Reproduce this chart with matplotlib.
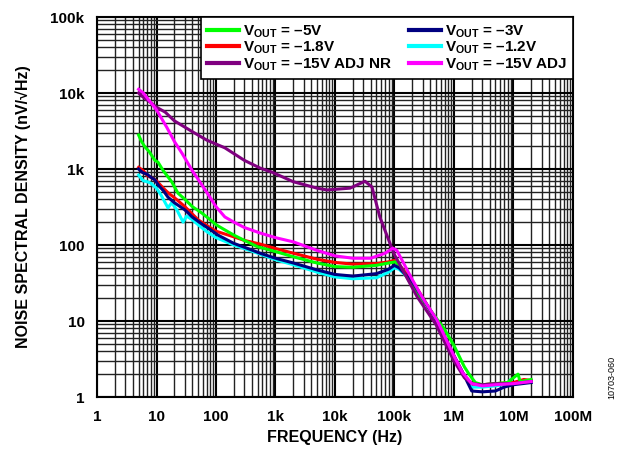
import numpy as np
import matplotlib
matplotlib.use("Agg")
import matplotlib.pyplot as plt
from matplotlib.ticker import LogLocator, NullFormatter

plt.rcParams['font.family'] = ['Liberation Sans', 'DejaVu Sans']
plt.rcParams['font.weight'] = 'bold'
plt.rcParams['mathtext.fontset'] = 'custom'
plt.rcParams['mathtext.rm'] = 'Liberation Sans:bold'
plt.rcParams['mathtext.it'] = 'Liberation Sans:bold'
plt.rcParams['mathtext.bf'] = 'Liberation Sans:bold'

# frequency (Hz) / noise density (nV/rtHz)
f_5v = [5, 5.6, 6.4, 7.5, 9.4, 10.6, 13, 18, 23, 30, 40, 58, 80, 100, 141, 200, 300, 500, 1e3, 2e3,
        5e3, 1e4, 2e4, 5e4, 8e4, 1.05e5, 1.3e5, 2.05e5, 4e5, 6.8e5, 1e6, 1.5e6, 1.8e6, 2.3e6, 3e6,
        5e6, 8e6, 1.2e7, 1.3e7, 2e7]
v_5v = [2800, 2300, 1950, 1700, 1300, 1230, 950, 680, 480, 400, 320, 263, 215, 185, 158, 135, 115,
        95, 82, 70, 58, 52, 51, 54, 58, 60, 50, 28, 14, 8, 4.8, 2.5, 2.0, 1.55, 1.45, 1.5, 1.55,
        2.0, 1.6, 1.7]

f_3v = [5, 5.8, 7, 8, 9.4, 11, 13, 15.6, 20, 25, 30, 40, 60, 80, 108, 200, 400, 550, 1e3, 2e3, 5e3,
        1e4, 2e4, 5e4, 8e4, 1e5, 1.2e5, 2e5, 5e5, 1e6, 1.5e6, 2e6, 3e6, 5e6, 7e6, 1e7, 2e7]
v_3v = [1000, 900, 850, 780, 720, 600, 520, 426, 360, 320, 290, 233, 185, 160, 135, 105, 86, 78, 67,
        58, 47, 41, 39, 42, 48, 54, 50, 33, 10.5, 3.5, 1.9, 1.2, 1.17, 1.2, 1.35, 1.45, 1.55]

f_18 = [5, 6, 7, 8.5, 10, 13, 16, 20, 30, 50, 70, 100, 200, 300, 550, 1e3, 2e3, 5e3, 1e4, 2e4, 5e4,
        8e4, 1e5, 1.2e5, 2e5, 5e5, 1e6, 1.5e6, 2e6, 3e6, 5e6, 1e7, 1.5e7, 2e7]
v_18 = [1050, 950, 820, 760, 700, 560, 480, 420, 320, 215, 180, 152, 128, 115, 103, 90, 78, 65, 59,
        56, 57, 60, 63, 55, 34, 10.5, 3.5, 1.9, 1.5, 1.45, 1.5, 1.55, 1.7, 1.65]

f_12 = [5, 5.5, 6, 7, 8, 10, 12, 15.6, 18, 22, 28, 32, 40, 50, 70, 100, 200, 500, 1e3, 2e3, 5e3, 1e4,
        2e4, 5e4, 8e4, 1e5, 1.2e5, 2e5, 5e5, 1e6, 1.5e6, 2e6, 3e6, 5e6, 8e6, 9e6, 1e7, 2e7]
v_12 = [830, 760, 700, 680, 650, 560, 450, 308, 360, 290, 200, 240, 215, 185, 150, 125, 100, 78, 64,
        55, 44, 38, 36, 37, 44, 50, 48, 33, 10.5, 3.5, 1.9, 1.35, 1.35, 1.4, 1.5, 1.7, 1.5, 1.6]

f_nr = [5, 6, 7.8, 10, 14, 20, 40, 70, 141, 300, 550, 870, 2e3, 5e3, 7.4e3, 1.8e4, 3.2e4, 4.2e4,
        5.7e4, 8.4e4, 1e5, 2.4e5, 5e5, 1e6, 1.5e6, 2e6, 3e6, 5e6, 1e7, 2e7]
v_nr = [10000, 8800, 7600, 6500, 5600, 4300, 3100, 2400, 1900, 1300, 1030, 910, 680, 560, 530, 560,
        690, 580, 233, 106, 75, 21, 9, 3, 1.8, 1.5, 1.45, 1.5, 1.5, 1.6]

f_adj = [5, 6, 8, 10, 15, 20, 27, 40, 58, 80, 100, 141, 200, 300, 550, 1e3, 2e3, 5e3, 1e4, 2e4,
         4e4, 7e4, 9.4e4, 1.1e5, 2e5, 3e5, 5.2e5, 1e6, 1.4e6, 2e6, 3e6, 5e6, 1e7, 2e7]
v_adj = [11200, 10000, 7500, 6000, 3500, 2300, 1600, 950, 617, 420, 320, 234, 200, 170, 144, 125,
         110, 85, 72, 67, 67, 78, 91, 85, 35, 20, 10.3, 3.5, 2.1, 1.5, 1.4, 1.45, 1.5, 1.6]

series = [
    (f_12, v_12, '#00FFFF', r'$\mathrm{V_{OUT}}$ = –1.2V'),
    (f_18, v_18, '#FF0000', r'$\mathrm{V_{OUT}}$ = –1.8V'),
    (f_5v, v_5v, '#00FF00', r'$\mathrm{V_{OUT}}$ = –5V'),
    (f_3v, v_3v, '#000080', r'$\mathrm{V_{OUT}}$ = –3V'),
    (f_nr, v_nr, '#800080', r'$\mathrm{V_{OUT}}$ = –15V ADJ NR'),
    (f_adj, v_adj, '#FF00FF', r'$\mathrm{V_{OUT}}$ = –15V ADJ'),
]

fig = plt.figure(figsize=(6.26, 4.51), dpi=100)
ax = fig.add_axes([0.155, 0.1197, 0.760, 0.8426])

lines = {}
for fx, vy, col, lab in series:
    ln, = ax.plot(fx, vy, color=col, lw=2.2, label=lab, solid_joinstyle='round')
    lines[lab] = ln

ax.set_xscale('log')
ax.set_yscale('log')
ax.set_xlim(1, 1e8)
ax.set_ylim(1, 1e5)

ax.xaxis.set_minor_locator(LogLocator(base=10, subs=np.arange(2, 10), numticks=100))
ax.yaxis.set_minor_locator(LogLocator(base=10, subs=np.arange(2, 10), numticks=100))
ax.xaxis.set_minor_formatter(NullFormatter())
ax.yaxis.set_minor_formatter(NullFormatter())

xlabels = ['1', '10', '100', '1k', '10k', '100k', '1M', '10M', '100M']
ylabels = ['1', '10', '100', '1k', '10k', '100k']
ax.set_xticks([10.0 ** i for i in range(9)])
ax.set_xticklabels(xlabels)
ax.set_yticks([10.0 ** i for i in range(6)])
ax.set_yticklabels(ylabels)
ax.tick_params(which='both', length=0, labelsize=11, pad=9)

ax.grid(which='major', color='black', lw=1.5)
ax.grid(which='minor', color='#222222', lw=1.0)
ax.set_axisbelow(True)
for s in ax.spines.values():
    s.set_linewidth(1.5)

ax.set_xlabel('FREQUENCY (Hz)', fontsize=11.5, fontweight='bold', labelpad=5)
ax.set_ylabel('NOISE SPECTRAL DENSITY (nV/√Hz)', fontsize=11.5, fontweight='bold', labelpad=14)

order = [r'$\mathrm{V_{OUT}}$ = –5V', r'$\mathrm{V_{OUT}}$ = –1.8V', r'$\mathrm{V_{OUT}}$ = –15V ADJ NR',
         r'$\mathrm{V_{OUT}}$ = –3V', r'$\mathrm{V_{OUT}}$ = –1.2V', r'$\mathrm{V_{OUT}}$ = –15V ADJ']
leg = ax.legend([lines[k] for k in order], order, loc='upper right', bbox_to_anchor=(1, 1),
                ncol=2, borderaxespad=0, fancybox=False, framealpha=1, edgecolor='black',
                prop={'size': 11, 'weight': 'bold'}, handlelength=2.1, handletextpad=0.25,
                columnspacing=1.1, labelspacing=0.02, borderpad=0.4)
leg.get_frame().set_linewidth(1.2)
for h in leg.legend_handles:
    h.set_linewidth(3)

fig.text(0.977, 0.115, '10703-060', rotation=90, fontsize=6.5, fontweight='normal',
         ha='center', va='bottom')

fig.savefig('out.png', dpi=100)
